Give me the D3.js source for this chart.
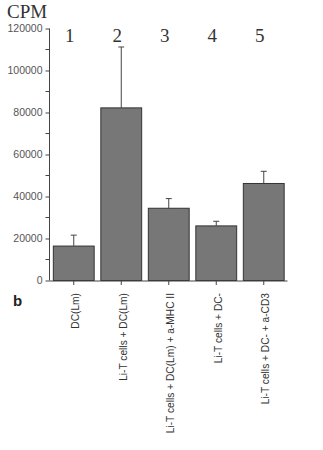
<!DOCTYPE html>
<html>
<head>
<meta charset="utf-8">
<script src="https://cdn.jsdelivr.net/npm/d3@7"></script>
<style>
  body { margin: 0; background: #fff; }
  svg { display: block; }
</style>
</head>
<body>
<svg id="chart" width="323" height="450"></svg>
<script>
var groups = ['1', '2', '3', '4', '5'];
var labels = ['DC(Lm)', 'Li-T cells + DC(Lm)', 'Li-T cells + DC(Lm) + a-MHC II',
              'Li-T cells + DC-', 'Li-T cells + DC- + a-CD3'];
var means = [16400, 82200, 34400, 26000, 46200];
var errTops = [21600, 111200, 39000, 28200, 52000];
var yTicks = [0, 20000, 40000, 60000, 80000, 100000, 120000];

var svg = d3.select('#chart');

var x = d3.scaleBand()
    .domain(d3.range(groups.length))
    .range([50, 287.5])
    .paddingInner(0.14)
    .paddingOuter(0.07);

var y = d3.scaleLinear()
    .domain([0, 120000])
    .range([280.5, 28.5]);

var ink = '#444';

// y axis, major ticks with labels
var yAxis = d3.axisLeft(y).tickValues(yTicks).tickSize(4).tickPadding(3)
    .tickFormat(d3.format('d'));
var gy = svg.append('g').attr('transform', 'translate(49.5,0)').call(yAxis);
gy.select('.domain').attr('stroke', ink).attr('d', 'M0,' + y(120000) + 'V' + y(0));
gy.selectAll('.tick line').attr('stroke', ink);
gy.selectAll('.tick text')
    .attr('fill', '#555')
    .style('font-family', 'Liberation Sans, Arial, sans-serif')
    .style('font-size', '10.5px');

// minor ticks
var minor = d3.range(10000, 120000, 20000);
svg.append('g').selectAll('line').data(minor).enter().append('line')
    .attr('x1', 45.5).attr('x2', 49.5)
    .attr('y1', function (d) { return y(d); })
    .attr('y2', function (d) { return y(d); })
    .attr('stroke', ink);

// bars
svg.append('g').selectAll('rect').data(means).enter().append('rect')
    .attr('x', function (d, i) { return x(i); })
    .attr('y', function (d) { return y(d); })
    .attr('width', x.bandwidth())
    .attr('height', function (d) { return y(0) - y(d); })
    .attr('fill', '#777')
    .attr('stroke', '#333')
    .attr('stroke-width', 1);

// error bars
var eb = svg.append('g').selectAll('g').data(errTops).enter().append('g');
eb.append('line')
    .attr('x1', function (d, i) { return x(i) + x.bandwidth() / 2; })
    .attr('x2', function (d, i) { return x(i) + x.bandwidth() / 2; })
    .attr('y1', function (d, i) { return y(means[i]); })
    .attr('y2', function (d) { return y(d); })
    .attr('stroke', '#444');
eb.append('line')
    .attr('x1', function (d, i) { return x(i) + x.bandwidth() / 2 - 3; })
    .attr('x2', function (d, i) { return x(i) + x.bandwidth() / 2 + 3; })
    .attr('y1', function (d) { return y(d); })
    .attr('y2', function (d) { return y(d); })
    .attr('stroke', '#444');

// x axis
var xAxis = d3.axisBottom(x).tickSize(4).tickFormat('');
var gx = svg.append('g').attr('transform', 'translate(0,' + (y(0) + 0.5) + ')').call(xAxis);
gx.select('.domain').attr('stroke', ink).attr('d', 'M49.5,0H287.5');
gx.selectAll('.tick line').attr('stroke', ink);

// rotated category labels
svg.append('g').selectAll('text').data(labels).enter().append('text')
    .attr('transform', function (d, i) {
        return 'translate(' + (x(i) + x.bandwidth() / 2 + 2) + ',293) rotate(-90)';
    })
    .attr('text-anchor', 'end')
    .attr('dy', '0.35em')
    .attr('fill', '#333')
    .style('font-family', 'Liberation Sans, Arial, sans-serif')
    .style('font-size', '10.2px')
    .text(function (d) { return d; });

// group numbers
svg.append('g').selectAll('text').data(groups).enter().append('text')
    .attr('x', function (d, i) { return x(i) + x.bandwidth() / 2 - 4; })
    .attr('y', 42)
    .attr('text-anchor', 'middle')
    .attr('fill', '#333')
    .style('font-family', 'Liberation Serif, Times New Roman, serif')
    .style('font-size', '19px')
    .text(function (d) { return d; });

svg.append('text')
    .attr('x', 7).attr('y', 18)
    .attr('fill', '#333')
    .style('font-family', 'Liberation Serif, Times New Roman, serif')
    .style('font-size', '19px')
    .text('CPM');

svg.append('text')
    .attr('x', 13).attr('y', 306)
    .attr('fill', '#222')
    .style('font-family', 'Liberation Sans, Arial, sans-serif')
    .style('font-weight', 'bold')
    .style('font-size', '15px')
    .text('b');
</script>
</body>
</html>
